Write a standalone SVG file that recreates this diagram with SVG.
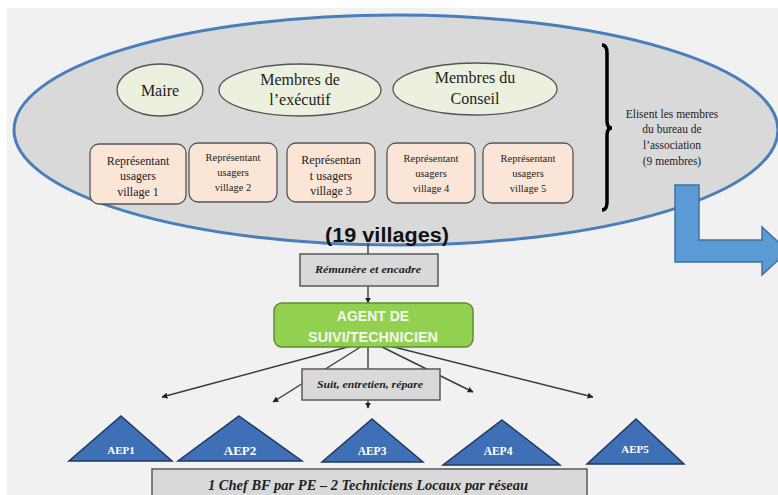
<svg xmlns="http://www.w3.org/2000/svg" width="778" height="495" viewBox="0 0 778 495">
<defs>
<style>
.serif{font-family:"Liberation Serif","Times New Roman",serif;fill:#222;}
.oval{fill:#ebf1de;stroke:#555;stroke-width:1.3;}
.vbox{fill:#fbe5d6;stroke:#555;stroke-width:1.3;}
.gbox{fill:#d9d9d9;stroke:#595959;stroke-width:1.5;}
.lbl{font-family:"Liberation Serif","Times New Roman",serif;font-style:italic;font-weight:bold;fill:#222;}
.tri{fill:#3f6fb4;stroke:#1f3864;stroke-width:1.5;}
.aep{font-family:"Liberation Serif","Times New Roman",serif;font-weight:bold;fill:#fff;text-anchor:middle;}
.conn{stroke:#3a3a3a;stroke-width:1.4;fill:none;}
</style>
<marker id="ah" viewBox="0 0 10 10" refX="9" refY="5" markerWidth="6" markerHeight="6" orient="auto" markerUnits="userSpaceOnUse">
<path d="M0,0 L10,5 L0,10 z" fill="#222"/>
</marker>
</defs>
<rect x="0" y="0" width="778" height="495" fill="#ffffff"/>
<rect x="7" y="8" width="771" height="487" fill="#f1f1f1"/>

<g id="assembly">
<ellipse cx="396" cy="130" rx="382" ry="115" fill="#d9d9d9" stroke="#4a7ebb" stroke-width="3"/>
</g>

<g id="maire">
<ellipse class="oval" cx="160" cy="90" rx="43" ry="26"/>
<text class="serif" x="160" y="96" font-size="16" text-anchor="middle">Maire</text>
</g>
<g id="executif">
<ellipse class="oval" cx="300" cy="90" rx="81" ry="26"/>
<text class="serif" x="300" y="85" font-size="16" text-anchor="middle">Membres de</text>
<text class="serif" x="300" y="105" font-size="16" text-anchor="middle">l’exécutif</text>
</g>
<g id="conseil">
<ellipse class="oval" cx="475" cy="89" rx="82" ry="26"/>
<text class="serif" x="475" y="83" font-size="16" text-anchor="middle">Membres du</text>
<text class="serif" x="475" y="104" font-size="16" text-anchor="middle">Conseil</text>
</g>

<g id="village1">
<rect class="vbox" x="90" y="144" width="96" height="60" rx="9"/>
<text class="serif" x="138" y="165" font-size="12" text-anchor="middle">Représentant</text>
<text class="serif" x="138" y="180" font-size="12" text-anchor="middle">usagers</text>
<text class="serif" x="138" y="196" font-size="12" text-anchor="middle">village 1</text>
</g>
<g id="village2">
<rect class="vbox" x="189" y="143" width="88" height="59" rx="9"/>
<text class="serif" x="233" y="161" font-size="10.5" text-anchor="middle">Représentant</text>
<text class="serif" x="233" y="176" font-size="10.5" text-anchor="middle">usagers</text>
<text class="serif" x="233" y="191" font-size="10.5" text-anchor="middle">village 2</text>
</g>
<g id="village3">
<rect class="vbox" x="287" y="143" width="88" height="59" rx="9"/>
<text class="serif" x="331" y="164" font-size="12" text-anchor="middle">Représentan</text>
<text class="serif" x="331" y="180" font-size="12" text-anchor="middle">t usagers</text>
<text class="serif" x="331" y="195" font-size="12" text-anchor="middle">village 3</text>
</g>
<g id="village4">
<rect class="vbox" x="387" y="143" width="88" height="60" rx="9"/>
<text class="serif" x="431" y="162" font-size="10.5" text-anchor="middle">Représentant</text>
<text class="serif" x="431" y="177" font-size="10.5" text-anchor="middle">usagers</text>
<text class="serif" x="431" y="192" font-size="10.5" text-anchor="middle">village 4</text>
</g>
<g id="village5">
<rect class="vbox" x="483" y="143" width="90" height="60" rx="9"/>
<text class="serif" x="528" y="162" font-size="10.5" text-anchor="middle">Représentant</text>
<text class="serif" x="528" y="177" font-size="10.5" text-anchor="middle">usagers</text>
<text class="serif" x="528" y="192" font-size="10.5" text-anchor="middle">village 5</text>
</g>

<g id="brace">
<path d="M602,45 Q607,45 607,53 L607,121 Q607,128 612,128 Q607,128 607,135 L607,202 Q607,210 602,210" fill="none" stroke="#000" stroke-width="3.5"/>
</g>
<g id="elisent">
<text class="serif" x="672" y="118" font-size="11.5" text-anchor="middle">Elisent les membres</text>
<text class="serif" x="672" y="133" font-size="11.5" text-anchor="middle">du bureau de</text>
<text class="serif" x="672" y="149" font-size="11.5" text-anchor="middle">l’association</text>
<text class="serif" x="672" y="165" font-size="11.5" text-anchor="middle">(9 membres)</text>
</g>

<g id="bent-arrow">
<path d="M675,185 L699,185 L699,240 L762,240 L762,227 L788,251 L762,275 L762,262 L675,262 Z" fill="#5b9bd5" stroke="#41719c" stroke-width="1.5"/>
</g>

<g id="villages-label">
<text x="387" y="242" font-family="'Liberation Sans',Arial,sans-serif" font-weight="bold" font-size="20" text-anchor="middle" textLength="124" lengthAdjust="spacingAndGlyphs" fill="#111">(19 villages)</text>
</g>

<g id="connectors">
<line class="conn" x1="368" y1="243" x2="368" y2="254"/>
<line class="conn" x1="368" y1="286" x2="368" y2="303" marker-end="url(#ah)"/>
<line class="conn" x1="370" y1="341" x2="162" y2="397" marker-end="url(#ah)"/>
<line class="conn" x1="370" y1="341" x2="273" y2="402" marker-end="url(#ah)"/>
<line class="conn" x1="368" y1="341" x2="368" y2="408" marker-end="url(#ah)"/>
<line class="conn" x1="370" y1="341" x2="473" y2="392" marker-end="url(#ah)"/>
<line class="conn" x1="370" y1="341" x2="593" y2="397" marker-end="url(#ah)"/>
</g>

<g id="remunere">
<rect class="gbox" x="300" y="254" width="138" height="32"/>
<text class="lbl" x="368" y="273" font-size="10" text-anchor="middle" textLength="106" lengthAdjust="spacingAndGlyphs">Rémunère et encadre</text>
</g>

<g id="agent">
<rect x="274" y="303" width="199" height="44" rx="8" fill="#92d050" stroke="#5e8f2c" stroke-width="1.5"/>
<text x="373" y="321" font-family="'Liberation Sans',Arial,sans-serif" font-weight="bold" font-size="14" text-anchor="middle" fill="#f4f8ee">AGENT DE</text>
<text x="373" y="342" font-family="'Liberation Sans',Arial,sans-serif" font-weight="bold" font-size="14" text-anchor="middle" fill="#f4f8ee" textLength="130" lengthAdjust="spacingAndGlyphs">SUIVI/TECHNICIEN</text>
</g>

<g id="suit">
<rect class="gbox" x="302" y="369" width="138" height="31"/>
<text class="lbl" x="370" y="388" font-size="10" text-anchor="middle" textLength="106" lengthAdjust="spacingAndGlyphs">Suit, entretien, répare</text>
</g>

<g id="aep1">
<polygon class="tri" points="121,416 172,461 69,461"/>
<text class="aep" x="121" y="454" font-size="11">AEP1</text>
</g>
<g id="aep2">
<polygon class="tri" points="239,416 302,461 178,461"/>
<text class="aep" x="240" y="455" font-size="13">AEP2</text>
</g>
<g id="aep3">
<polygon class="tri" points="372,419 423,462 322,462"/>
<text class="aep" x="372" y="455" font-size="11.5">AEP3</text>
</g>
<g id="aep4">
<polygon class="tri" points="502,420 560,465 443,465"/>
<text class="aep" x="498" y="455" font-size="11.5">AEP4</text>
</g>
<g id="aep5">
<polygon class="tri" points="636,419 684,464 587,464"/>
<text class="aep" x="635" y="453" font-size="11">AEP5</text>
</g>

<g id="chef">
<rect class="gbox" x="152" y="469" width="435" height="30"/>
<text class="lbl" x="368" y="490" font-size="15" text-anchor="middle" textLength="320" lengthAdjust="spacingAndGlyphs">1 Chef BF par PE – 2 Techniciens Locaux par réseau</text>
</g>
</svg>
